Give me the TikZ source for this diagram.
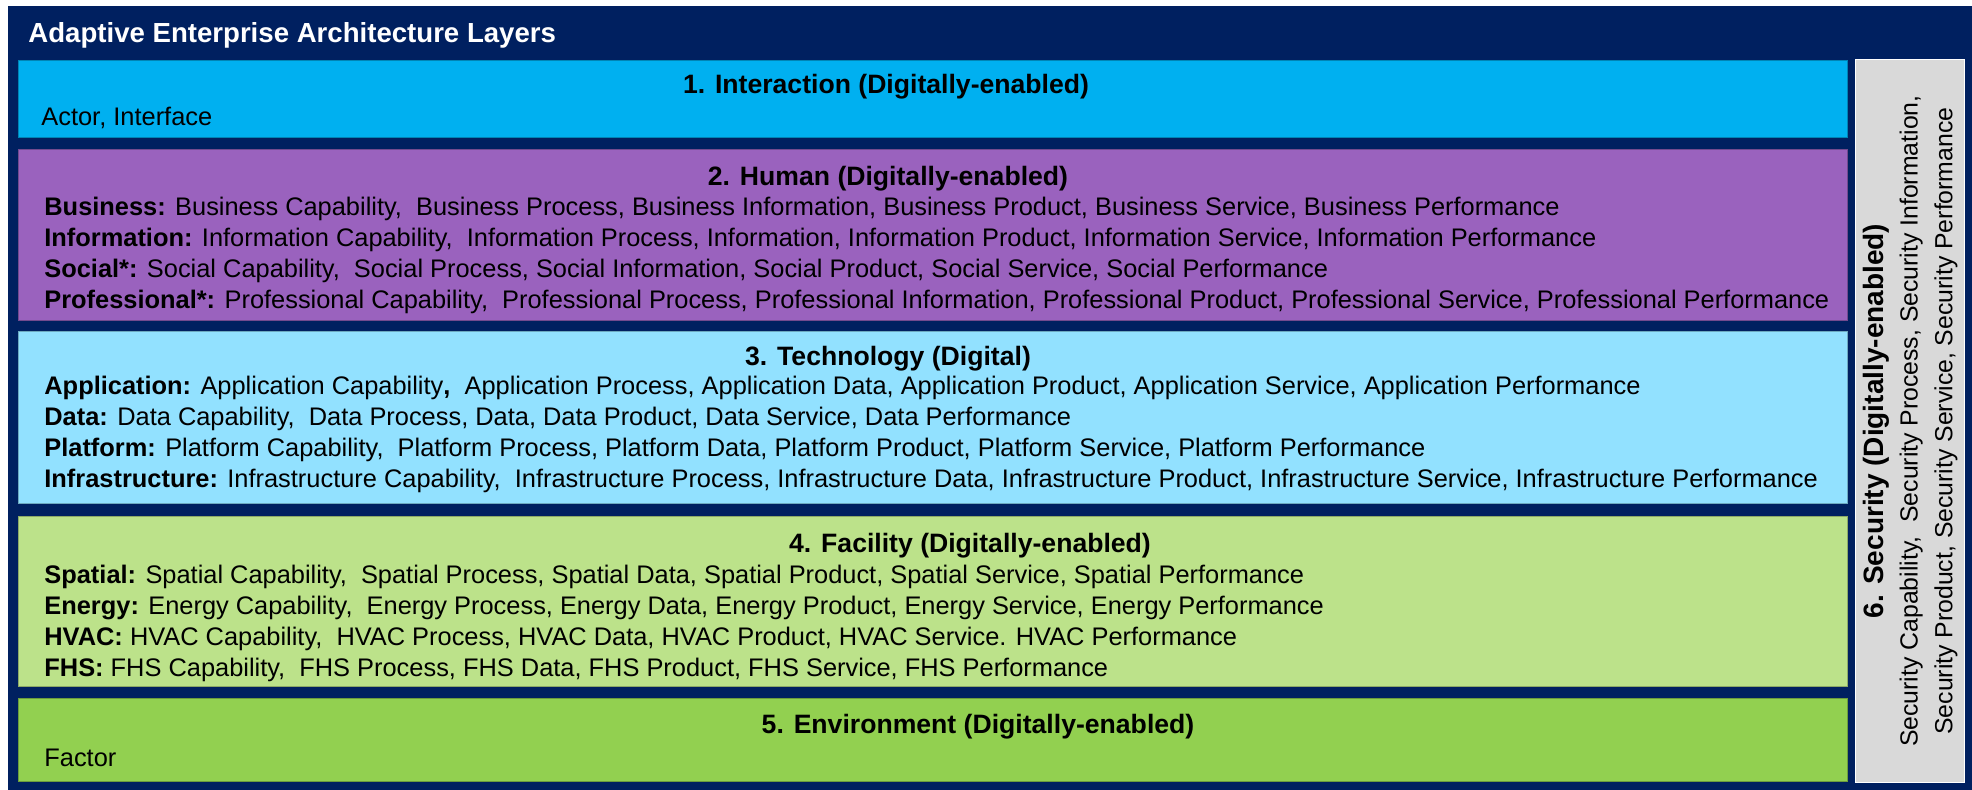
\documentclass[tikz,border=0pt]{standalone}
\usepackage{fontspec}
\setmainfont{Liberation Sans}
\usetikzlibrary{positioning}

\definecolor{navy}{HTML}{002060}
\definecolor{interactc}{HTML}{00B0F0}
\definecolor{humanc}{HTML}{9A62BE}
\definecolor{techc}{HTML}{92E1FF}
\definecolor{facilityc}{HTML}{BCE28A}
\definecolor{envc}{HTML}{92D050}
\definecolor{securc}{HTML}{D9D9D9}

\tikzset{
  layer/.style={draw=#1!75!black, fill=#1, line width=0.6pt, inner sep=0pt,
    minimum width=914.5pt, anchor=north west},
  heading/.style={inner sep=0pt, font=\fontsize{13.3}{15}\selectfont\bfseries},
  items/.style={inner sep=0pt, anchor=north west, align=left,
    font=\fontsize{12.7}{15.5}\selectfont},
}

\begin{document}
\begin{tikzpicture}[x=0.5pt, y=-0.5pt]
    \useasboundingbox (0,0) rectangle (1972,790);
    \fill[navy] (8,6) rectangle (1972,790);
    \node[anchor=west, inner sep=0pt, text=white, font=\fontsize{13.8}{15}\selectfont\bfseries]
      (title) at (28,35) {Adaptive Enterprise Architecture Layers};

    % layer boxes
    \node[layer=interactc, minimum height=38.5pt] (interaction) at (18,60) {};
    \node[layer=humanc,    minimum height=85.5pt] (human)       at (18,149) {};
    \node[layer=techc,     minimum height=86pt]   (technology)  at (18,331) {};
    \node[layer=facilityc, minimum height=85pt]   (facility)    at (18,516) {};
    \node[layer=envc,      minimum height=41.5pt] (environment) at (18,698) {};
    \node[draw=white, fill=securc, line width=0.6pt, inner sep=0pt, anchor=north west,
      minimum width=54.5pt, minimum height=361.5pt] (security) at (1855,59) {};

    % headings
    \node[heading] (interaction head) at (886,87)  {1. Interaction (Digitally-enabled)};
    \node[heading] (human head)       at (888,179) {2. Human (Digitally-enabled)};
    \node[heading] (technology head)  at (888,359) {3. Technology (Digital)};
    \node[heading] (facility head)    at (970,546) {4. Facility (Digitally-enabled)};
    \node[heading] (environment head) at (978,727) {5. Environment (Digitally-enabled)};

    % contents
    \node[items] (interaction items) at (41,107) {Actor, Interface};
    \node[items] (human items) at (44,197) {%
      \textbf{Business:} Business Capability,\ \ Business Process, Business Information,  Business Product,  Business Service, Business Performance\\
      \textbf{Information:} Information Capability,\ \ Information Process, Information,  Information Product,  Information Service, Information Performance\\
      \textbf{Social*:} Social Capability,\ \ Social Process, Social Information,  Social Product,  Social Service, Social Performance\\
      \textbf{Professional*:} Professional Capability,\ \ Professional Process, Professional Information,  Professional Product,  Professional Service, Professional Performance};
    \node[items] (technology items) at (44,376) {%
      \textbf{Application:} Application Capability\textbf{,}\ \ Application Process,  Application Data, Application Product, Application Service, Application Performance\\
      \textbf{Data:} Data Capability,\ \ Data Process, Data, Data Product,  Data Service, Data Performance\\
      \textbf{Platform:} Platform Capability,\ \ Platform Process, Platform Data, Platform Product,  Platform Service, Platform Performance\\
      \textbf{Infrastructure:} Infrastructure Capability,\ \ Infrastructure Process, Infrastructure Data, Infrastructure Product, Infrastructure Service, Infrastructure Performance};
    \node[items] (facility items) at (44,565) {%
      \textbf{Spatial:} Spatial Capability,\ \ Spatial Process, Spatial Data, Spatial Product, Spatial Service, Spatial Performance\\
      \textbf{Energy:} Energy Capability,\ \ Energy Process, Energy Data, Energy Product, Energy Service, Energy Performance\\
      \textbf{HVAC:} HVAC Capability,\ \ HVAC Process, HVAC Data, HVAC Product,  HVAC Service. HVAC Performance\\
      \textbf{FHS:} FHS Capability,\ \ FHS Process, FHS Data, FHS Product, FHS Service, FHS Performance};
    \node[items] (environment items) at (44,749) {Factor};

    \node[rotate=90, align=center, inner sep=0pt, font=\fontsize{12.4}{17.3}\selectfont]
      (security items) at (security.center)
      {{\fontsize{14}{17.3}\selectfont\bfseries 6. Security (Digitally-enabled)}\\
       Security Capability,\ \ Security Process, Security Information,\\
       Security Product, Security Service, Security Performance};
\end{tikzpicture}
\end{document}
